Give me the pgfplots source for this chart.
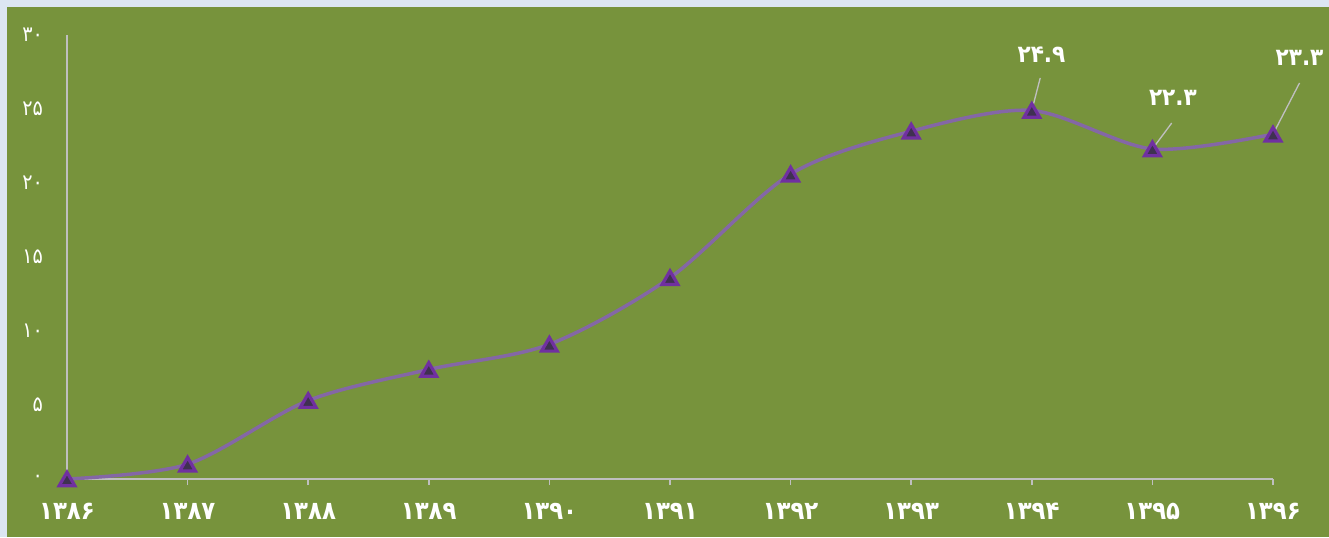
\documentclass[border=0pt]{standalone}
\usepackage{fontspec}
\usepackage{pgfplots}
\pgfplotsset{compat=1.18}
\newfontfamily\fa[Script=Arabic]{DejaVu Sans Condensed}
\definecolor{bg}{HTML}{77933C}
\definecolor{frame}{HTML}{DCE6F2}
\definecolor{ln}{HTML}{8467A6}
\definecolor{mk}{HTML}{7030A0}
\definecolor{mkfill}{HTML}{3F3151}
\definecolor{ax}{HTML}{BFBFBF}
\begin{document}
\begin{tikzpicture}
% 1px = 0.75pt
\fill[frame] (0,0) rectangle (996.75pt,402.75pt);
\fill[bg] (5.25pt,0) rectangle (996.75pt,397.5pt);
\begin{axis}[
  at={(50.25pt,43.5pt)}, anchor=south west,
  scale only axis, width=904.5pt, height=333pt,
  xmin=1386, xmax=1396, ymin=0, ymax=30,
  clip=false,
  axis x line=bottom, axis y line=left,
  axis line style={ax, line width=1.4pt, -},
  xtick={1386,...,1396},
  xticklabels={۱۳۸۶,۱۳۸۷,۱۳۸۸,۱۳۸۹,۱۳۹۰,۱۳۹۱,۱۳۹۲,۱۳۹۳,۱۳۹۴,۱۳۹۵,۱۳۹۶},
  ytick={0,5,...,30},
  yticklabels={۰,۵,۱۰,۱۵,۲۰,۲۵,۳۰},
  tick align=outside,
  major tick length=4.5pt,
  x tick style={ax, line width=1.2pt},
  y tick style={draw=none},
  xticklabel style={font=\fa\bfseries\fontsize{19}{19}\selectfont, text=white, yshift=-10pt},
  yticklabel style={font=\fa\fontsize{16}{16}\selectfont, text=white, xshift=-10pt},
]
\addplot[smooth, ln, line width=2.6pt, mark=triangle*, mark size=6.8pt,
  mark options={draw=mk, fill=mkfill, line width=2.4pt, yshift=-1.7pt}]
  coordinates {
(1386, 0)
(1387, 1.0)
(1388, 5.3)
(1389, 7.4)
(1390, 9.1)
(1391, 13.6)
(1392, 20.6)
(1393, 23.5)
(1394, 24.9)
(1395, 22.3)
(1396, 23.3)
};
\draw[ax, line width=1pt] (axis cs:1394.07,27.1) -- (axis cs:1394,24.9);
\draw[ax, line width=1pt] (axis cs:1395.16,24.05) -- (axis cs:1395,22.3);
\draw[ax, line width=1pt] (axis cs:1396.22,26.76) -- (axis cs:1396,23.3);
\node[text=white, font=\fa\bfseries\fontsize{18}{18}\selectfont] at (axis cs:1394.08,28.65) {۲۴.۹};
\node[text=white, font=\fa\bfseries\fontsize{18}{18}\selectfont] at (axis cs:1395.17,25.74) {۲۲.۳};
\node[text=white, font=\fa\bfseries\fontsize{18}{18}\selectfont] at (axis cs:1396.22,28.45) {۲۳.۳};
\end{axis}
\end{tikzpicture}
\end{document}
